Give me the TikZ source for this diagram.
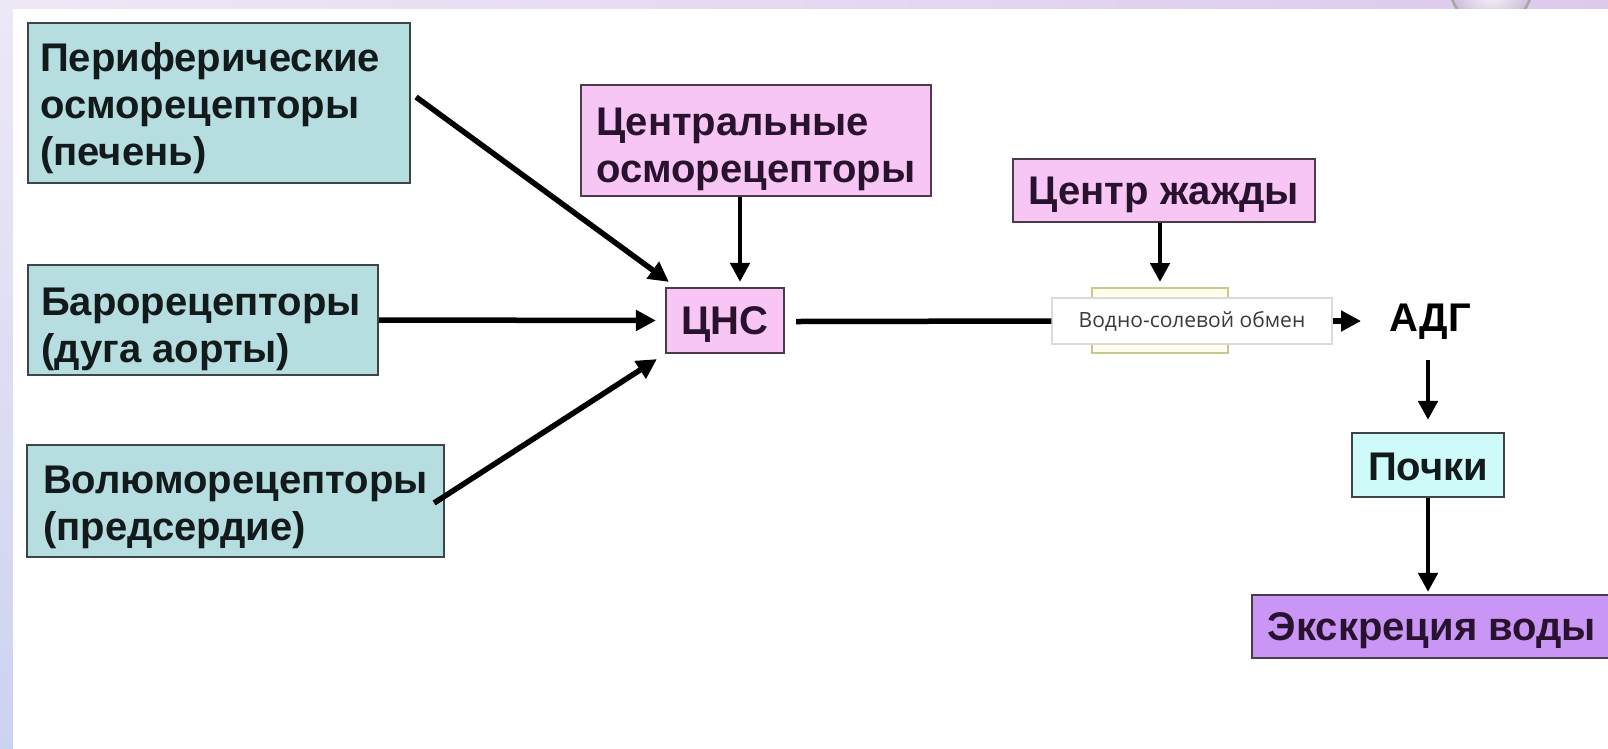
\documentclass[tikz,border=0pt]{standalone}
\usepackage{fontspec}
\setmainfont{Liberation Sans}
\newfontfamily\labelfont{Open Sans}
\usetikzlibrary{arrows.meta,calc}
\definecolor{tealfill}{HTML}{B6DDDF}
\definecolor{pinkfill}{HTML}{F8C6F4}
\definecolor{cyanfill}{HTML}{CFFAFA}
\definecolor{violetfill}{HTML}{C996F6}
\definecolor{bordgray}{HTML}{3C4646}
\definecolor{bordpurple}{HTML}{4A3A4C}
\definecolor{txtteal}{HTML}{121A1C}
\definecolor{txtpink}{HTML}{28122E}
\definecolor{stripA}{HTML}{EEE8F6}
\definecolor{stripB}{HTML}{DDC9EE}
\definecolor{stripC}{HTML}{CCD3F0}
\definecolor{ybord}{HTML}{C8C890}
\definecolor{yfill}{HTML}{FFFFEC}
\definecolor{lbord}{HTML}{DADADA}
\definecolor{lbltxt}{HTML}{3A3A3A}
\begin{document}
\begin{tikzpicture}[x=1pt,y=-1pt,
  boxfont/.style={font=\bfseries\fontsize{40}{47}\selectfont},
  tealbox/.style={draw=bordgray, line width=2.2pt, fill=tealfill, inner sep=0pt},
  pinkbox/.style={draw=bordpurple, line width=2.2pt, fill=pinkfill, inner sep=0pt},
  tealtxt/.style={boxfont, text=txtteal, align=left, inner sep=0pt},
  pinktxt/.style={boxfont, text=txtpink, align=left, inner sep=0pt},
  arr/.style={line width=5.5pt, -{Triangle[length=20pt,width=20pt]}},
  varr/.style={line width=4.8pt, -{Triangle[length=19pt,width=19pt]}},
  plainline/.style={line width=5.5pt}
]
\useasboundingbox (0,0) rectangle (1608,748);
\clip (0,0) rectangle (1608,748);
% background
\shade[left color=stripA, right color=stripB] (0,0) rectangle (1608,10);
\shade[top color=stripA, bottom color=stripC] (0,0) rectangle (13,748);
\shade[inner color=white, outer color=stripB!80!gray] (1491,-14) circle (42);
\draw[line width=2.5pt, gray!70] (1491,-14) circle (41);
\fill[white] (13,9) rectangle (1608,748);

% left boxes
\node[tealbox, minimum width=382pt, minimum height=160pt] (p1) at (219,103) {};
\node[tealtxt, anchor=west] (p1t) at ($(p1.west)+(13,5)$) {Периферические\\осморецепторы\\(печень)};
\node[tealbox, minimum width=350pt, minimum height=110pt] (p2) at (203,320) {};
\node[tealtxt, anchor=west] (p2t) at ($(p2.west)+(14,9)$) {Барорецепторы\\(дуга аорты)};
\node[tealbox, minimum width=417pt, minimum height=112pt] (p3) at (235.5,501) {};
\node[tealtxt, anchor=west] (p3t) at ($(p3.west)+(17,6)$) {Волюморецепторы\\(предсердие)};

% central
\node[pinkbox, minimum width=350pt, minimum height=111pt] (co) at (756,140.5) {};
\node[pinktxt, anchor=west] (cot) at ($(co.west)+(16,9)$) {Центральные\\осморецепторы};
\node[pinkbox, minimum width=118pt, minimum height=65pt] (cns) at (725,320.5) {};
\node[pinktxt] (cnst) at ($(cns.center)+(0,4)$) {ЦНС};
\node[pinkbox, minimum width=302pt, minimum height=63pt] (thirst) at (1164,190.5) {};
\node[pinktxt] (thirstt) at ($(thirst.center)+(0,4)$) {Центр жажды};

% label
\node[draw=ybord, line width=2pt, fill=yfill, minimum width=136pt, minimum height=65pt] (ybox) at (1160,320.5) {};
\node[draw=lbord, line width=1.2pt, fill=white, minimum width=280pt, minimum height=46pt,
  font=\labelfont\fontsize{21}{24}\selectfont, text=lbltxt] (label) at (1192,321) {Водно-солевой обмен};

% right chain
\node[boxfont, text=black, inner sep=2pt] (adg) at (1430,322) {АДГ};
\node[tealbox, fill=cyanfill, minimum width=152pt, minimum height=64pt] (kid) at (1428,465) {};
\node[tealtxt] (kidt) at ($(kid.center)+(0,2)$) {Почки};
\node[pinkbox, fill=violetfill, minimum width=360pt, minimum height=63pt] (exc) at (1432,626.5) {};
\node[pinktxt] (exct) at ($(exc.center)+(0,4)$) {Экскреция воды};

% connectors
\draw[arr] ($(p1.east)+(5,-6)$) -- ($(cns.north west)+(4,-5)$);
\draw[arr, shorten >=9pt] (p2.east) -- (cns.west);
\draw[arr] ($(p3.east)+(-11,2)$) -- ($(cns.south west)+(-8,5)$);
\draw[varr, shorten >=5pt] ($(co.south)+(-16,0)$) -- ($(cns.north)+(15,0)$);
\draw[plainline] ($(cns.east)+(11,1)$) -- (label.west);
\draw[varr, shorten >=5pt] (thirst.south -| ybox.north) -- (ybox.north);
\draw[arr, shorten >=26pt] (label.east) -- (adg.west |- label.east);
\draw[varr, shorten <=18pt, shorten >=12pt] (adg.south -| kid.north) -- (kid.north);
\draw[varr, shorten >=2pt] (kid.south) -- (exc.north -| kid.south);
\end{tikzpicture}
\end{document}
